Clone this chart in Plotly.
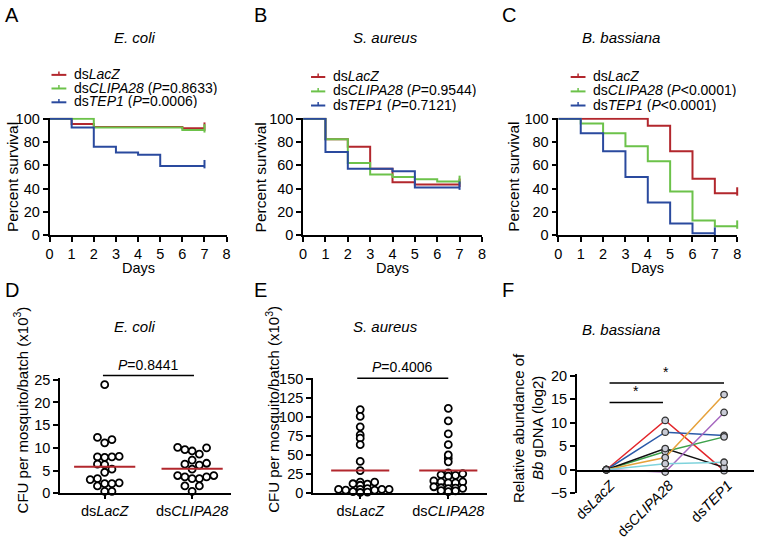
import plotly.graph_objects as go

W, H = 759, 545
FONT = "Liberation Sans, Arial, sans-serif"

# ---------------- data ----------------
days8 = [0, 1, 2, 3, 4, 5, 6, 7, 8]

# Panel A: E. coli survival
A_lacz = [100, 95.5, 93, 93, 93, 93, 91.8, 91.8]
A_clipa = [100, 100, 92.5, 92.5, 92.5, 92.5, 90.3, 90.3]
A_tep1 = [100, 92.5, 76, 71, 69, 59.5, 59.5, 59.5]
A_p = ["=0.8633", "=0.0006"]

# Panel B: S. aureus survival
B_lacz = [100, 82.5, 76, 57, 45.5, 43.5, 43.5, 43.5]
B_clipa = [100, 82.5, 62, 52, 50, 48, 46, 46]
B_tep1 = [100, 71.5, 57, 57, 55, 41, 41, 41]
B_p = ["=0.9544", "=0.7121"]

# Panel C: B. bassiana survival
C_lacz = [100, 100, 100, 100, 94, 72, 48.5, 36, 36]
C_clipa = [100, 96, 87.5, 76.5, 63.5, 37.5, 12.5, 7.5, 7.5]
C_tep1 = [100, 87.5, 72, 50, 28, 10, 1.5, 1.5]
C_p = ["<0.0001", "<0.0001"]

# Panel D: E. coli CFU (x10^3)
D_lacz = [23.9, 11.8, 11.1, 12.3, 8.0, 7.9, 8.0, 8.1, 6.4, 6.3, 5.3, 4.6,
          3.0, 2.1, 2.3, 2.1, 3.2, 1.6, 0.4, 0.4]
D_clipa = [10.0, 9.3, 9.6, 10.1, 8.6, 7.3, 6.4, 6.2, 6.6, 5.3,
           3.9, 3.6, 3.2, 3.2, 3.6, 3.9, 1.6, 1.6, 0.4]
D_means = [5.85, 5.4]
D_pval = "0.8441"

# Panel E: S. aureus CFU (x10^3)
E_lacz = [110, 101, 87.3, 76.7, 72.4, 63.9, 41.8, 29.8,
          14.5, 12, 10.5, 12.5, 14.5, 5, 4, 5, 6, 4, 5, 5, 1.5, 1, 2]
E_clipa = [111.6, 95, 78, 63.9, 46, 50.3, 41.3, 26.8, 23.4, 22.6, 24.3, 25.6,
           14.9, 13.6, 14.9, 13.6, 16.2, 8.5, 6.4, 6, 6.8, 7.2, 2.1, 3, 3.4]
E_means = [29.8, 29.8]
E_pval = "0.4006"

# Panel F: B. bassiana gDNA (log2), paired samples
F_groups = ["ds<i>LacZ</i>", "ds<i>CLIPA28</i>", "ds<i>TEP1</i>"]
F_lacz = [0, 0, 0, 0, 0, 0, 0]
F_clipa = [10.5, 8.0, 3.9, 4.5, 2.6, -0.5, 1.3]
F_tep1 = [-0.2, 7.3, 7.0, 0.5, 16.0, 12.2, 1.6]
F_colors = ["#e3262b", "#2b5aa8", "#3ca14a", "#111111", "#e6a23c", "#a668c0", "#7fd3dc"]

cfu_cats = ["ds<i>LacZ</i>", "ds<i>CLIPA28</i>"]

RED, GREEN, BLUE = "#b2272d", "#6cc24a", "#2a4a9e"


def fx(x):
    return x / W


def fy(y):
    return 1 - y / H


fig = go.Figure()

# ---------------- survival panels ----------------
surv = [
    ("x", "y", [A_lacz, A_clipa, A_tep1]),
    ("x2", "y2", [B_lacz, B_clipa, B_tep1]),
    ("x3", "y3", [C_lacz, C_clipa, C_tep1]),
]
for xa, ya, series in surv:
    for s, col in zip(series, [RED, GREEN, BLUE]):
        d = days8[:len(s)]
        fig.add_trace(go.Scatter(x=d, y=s, xaxis=xa, yaxis=ya, mode="lines",
                                 line=dict(color=col, width=2, shape="hv"),
                                 showlegend=False, cliponaxis=False))
        fig.add_trace(go.Scatter(x=[d[-1]], y=[s[-1] + 1.5], xaxis=xa, yaxis=ya, mode="markers",
                                 marker=dict(symbol="line-ns", size=6,
                                             line=dict(color=col, width=2)),
                                 showlegend=False, cliponaxis=False))


# ---------------- beeswarm helper ----------------
def swarm(vals, px_per_x, px_per_y, diam=7.3, vf=1.0):
    order = sorted(range(len(vals)), key=lambda i: vals[i])
    placed = []
    offs = [0.0] * len(vals)
    cands = [0]
    for j in range(1, 25):
        cands += [j, -j]
    for i in order:
        ypx = vals[i] * px_per_y
        for c in cands:
            xpx = c * diam
            if all(((xpx - a) / (diam * 0.97)) ** 2 + ((ypx - b) / (diam * vf)) ** 2 >= 1
                   for a, b in placed):
                break
        placed.append((xpx, ypx))
        offs[i] = xpx / px_per_x
    return offs


def cfu_panel(groups, means, xa, ya, pxx, pxy, half, vf):
    for k, vals in enumerate(groups):
        offs = swarm(vals, pxx, pxy, vf=vf)
        fig.add_trace(go.Scatter(x=[k + o for o in offs], y=vals, xaxis=xa, yaxis=ya,
                                 mode="markers", cliponaxis=False, showlegend=False,
                                 marker=dict(symbol="circle", size=7, color="white",
                                             line=dict(color="black", width=1.8))))
        fig.add_trace(go.Scatter(x=[k - half, k + half], y=[means[k]] * 2, xaxis=xa, yaxis=ya,
                                 mode="lines", line=dict(color=RED, width=2), showlegend=False))


cfu_panel([D_lacz, D_clipa], D_means, "x4", "y4", 88.3, 4.668, 0.35, 1.0)
cfu_panel([E_lacz, E_clipa], E_means, "x5", "y5", 89.0, 0.782, 0.33, 0.4)

# Panel F
for i, col in enumerate(F_colors):
    fig.add_trace(go.Scatter(x=[0, 1, 2], y=[F_lacz[i], F_clipa[i], F_tep1[i]],
                             xaxis="x6", yaxis="y6", mode="lines+markers", cliponaxis=False,
                             showlegend=False, line=dict(color=col, width=1.5),
                             marker=dict(symbol="circle", size=6.5, color="#c9cbd6",
                                         line=dict(color="#333333", width=1.3))))

# ---------------- axes ----------------
axbase = dict(showline=True, linecolor="black", linewidth=1.6, ticks="outside", ticklen=5,
              tickwidth=1.6, tickcolor="black", showgrid=False, zeroline=False,
              tickfont=dict(family=FONT, size=14.5, color="black"))


def ax(**kw):
    d = dict(axbase)
    d.update(kw)
    return d


ytop_s, ybot_s = 113.8, 234.5
surv_y = dict(range=[0, 101], tickvals=[0, 20, 40, 60, 80, 100], domain=[fy(ybot_s), fy(ytop_s)])
layout_axes = dict(
    xaxis=ax(domain=[fx(46), fx(225)], range=[0, 8], dtick=1, anchor="y"),
    yaxis=ax(anchor="x", **surv_y),
    xaxis2=ax(domain=[fx(302.3), fx(483)], range=[0, 8], dtick=1, anchor="y2"),
    yaxis2=ax(anchor="x2", **surv_y),
    xaxis3=ax(domain=[fx(560.3), fx(741)], range=[0, 8], dtick=1, anchor="y3"),
    yaxis3=ax(anchor="x3", **surv_y),
    xaxis4=ax(domain=[fx(56.7), fx(229)], range=[-0.51, 1.44], tickvals=[0, 1], ticktext=cfu_cats,
              anchor="y4", ticklen=4),
    yaxis4=ax(domain=[fy(500), fy(381.4)], range=[0, 25.4], tickvals=[0, 5, 10, 15, 20, 25], anchor="x4"),
    xaxis5=ax(domain=[fx(312.3), fx(488)], range=[-0.536, 1.438], tickvals=[0, 1], ticktext=cfu_cats,
              anchor="y5", ticklen=4),
    yaxis5=ax(domain=[fy(500), fy(381.1)], range=[0, 152], tickvals=[0, 25, 50, 75, 100, 125, 150], anchor="x5"),
    xaxis6=ax(domain=[fx(579), fx(757.5)], range=[-0.5, 2.5], tickvals=[0, 1, 2], ticktext=F_groups,
              ticks="", tickangle=-45, ticklabelshift=4, anchor="free", position=fy(476.7)),
    yaxis6=ax(domain=[fy(500), fy(377.8)], range=[-5, 20.3], tickvals=[-5, 0, 5, 10, 15, 20], anchor="x6"),
)

# ---------------- annotations & shapes ----------------
ann = []
shapes = []


def text(x, y, t, size=14, xanchor="center", yanchor="middle", angle=0, italic=False, height=None):
    a = dict(x=fx(x), y=fy(y), xref="paper", yref="paper", text=t, showarrow=False,
             xanchor=xanchor, yanchor=yanchor, textangle=angle,
             font=dict(family=FONT, size=size, color="black",
                       style="italic" if italic else "normal"))
    if height:
        a["height"] = height
    ann.append(a)


def hline(x0, x1, y, color="black", width=1.6):
    shapes.append(dict(type="line", xref="paper", yref="paper", x0=fx(x0), x1=fx(x1),
                       y0=fy(y), y1=fy(y), line=dict(color=color, width=width)))


def vline(x, y0, y1, color="black", width=1.6):
    shapes.append(dict(type="line", xref="paper", yref="paper", x0=fx(x), x1=fx(x),
                       y0=fy(y0), y1=fy(y1), line=dict(color=color, width=width)))


# panel letters
for lab, x, y in [("A", 8, 8), ("B", 259, 8), ("C", 510, 8), ("D", 8, 291), ("E", 259, 291), ("F", 509, 291)]:
    text(x, y, lab, size=20)

# panel titles
text(132.7, 31, "E. coli", size=15, italic=True)
text(385.7, 31, "S. aureus", size=15, italic=True)
text(623.3, 31, "B. bassiana", size=15, italic=True)
text(132.7, 328.5, "E. coli", size=15, italic=True)
text(385.7, 328.5, "S. aureus", size=15, italic=True)
text(623.3, 332, "B. bassiana", size=15, italic=True)

# survival y titles and x titles
for x in [8, 259, 515]:
    text(x, 175, "Percent survival", size=15.5, angle=-90)
for x in [136, 392.5, 650.5]:
    text(x, 268, "Days", size=14.5)

# manual legends (line with censor tick + label)
legs = [
    (48, 63, 68.3, [68.8, 82.8, 97.0], A_p),
    (310.3, 324.7, 330.3, [71, 85.8, 100.3], B_p),
    (572.7, 587.7, 593.3, [71, 85.8, 100.3], C_p),
]
for x0, x1, xt, ys, pv in legs:
    labels = ["ds<i>LacZ</i>",
              "ds<i>CLIPA28</i> (<i>P</i>%s)" % pv[0].replace("<", "&lt;"),
              "ds<i>TEP1</i> (<i>P</i>%s)" % pv[1].replace("<", "&lt;")]
    for y, lab, col in zip(ys, labels, [RED, GREEN, BLUE]):
        hline(x0, x1, y + 1, color=col, width=2)
        vline((x0 + x1) / 2, y + 1, y - 2.5, color=col, width=1.5)
        text(xt, y, lab, xanchor="left", height=14)

# D / E y titles
text(17, 414, "CFU per mosquito/batch (x10<sup>3</sup>)", size=15, angle=-90)
text(271, 414, "CFU per mosquito/batch (x10<sup>3</sup>)", size=15, angle=-90)
# F y titles
text(519.5, 433, "Relative abundance of", size=15, angle=-90)
text(538.5, 433, "<i>Bb</i> gDNA (log2)", size=15, angle=-90)

# significance bars
hline(100, 192, 379)
text(146, 378, "<i>P</i>=" + D_pval, yanchor="bottom")
hline(357, 449, 381.7)
text(403, 380.5, "<i>P</i>=" + E_pval, yanchor="bottom")
hline(612, 727.7, 386.7)
text(668.7, 385.5, "*", yanchor="bottom")
hline(612, 666, 406.7)
text(638.3, 405.5, "*", yanchor="bottom")

fig.update_layout(
    width=W, height=H, margin=dict(l=0, r=0, t=0, b=0),
    paper_bgcolor="white", plot_bgcolor="white",
    font=dict(family=FONT, size=14, color="black"),
    showlegend=False, annotations=ann, shapes=shapes,
    **layout_axes,
)

fig.write_html("out.html", config={"displayModeBar": False},
               post_script="document.body.style.margin='0';")
